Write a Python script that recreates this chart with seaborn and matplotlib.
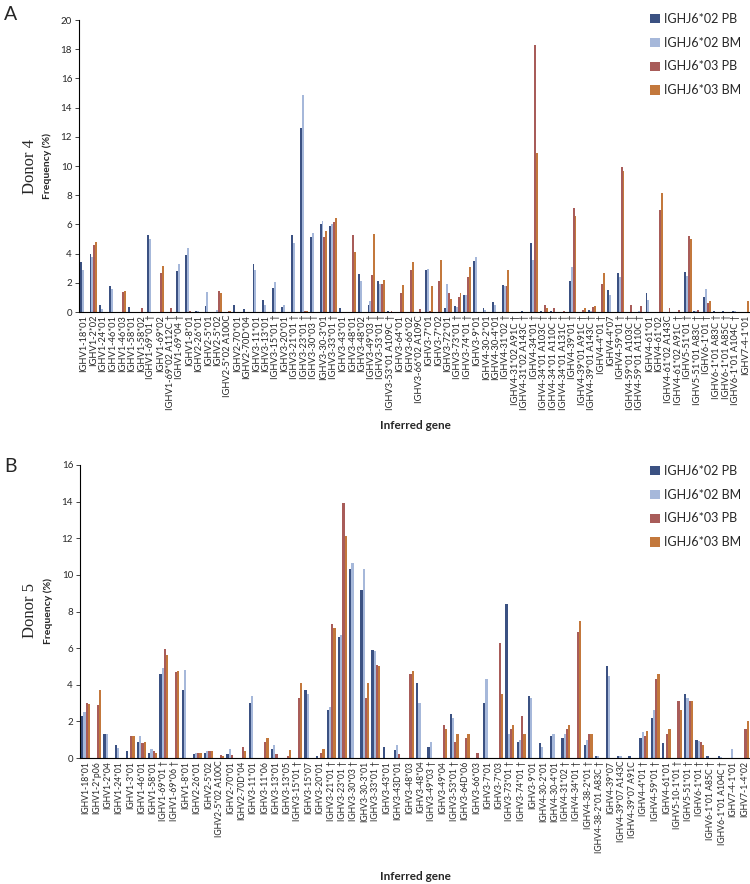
import numpy as np
import pandas as pd
import seaborn as sns
import matplotlib
matplotlib.use("Agg")
import matplotlib.pyplot as plt

series = ["IGHJ6*02 PB", "IGHJ6*02 BM", "IGHJ6*03 PB", "IGHJ6*03 BM"]
colors = ["#2F4D8E", "#9DB5E3", "#B5504C", "#D97626"]

# Donor 4
genes_a = ["IGHV1-18*01", "IGHV1-2*02", "IGHV1-24*01", "IGHV1-46*01", "IGHV1-46*03",
           "IGHV1-58*01", "IGHV1-58*02", "IGHV1-69*01 †", "IGHV1-69*02", "IGHV1-69*02 A112C †",
           "IGHV1-69*04 †", "IGHV1-8*01", "IGHV2-26*01", "IGHV2-5*01", "IGHV2-5*02",
           "IGHV2-5*02 A100C", "IGHV2-70*01", "IGHV2-70D*04", "IGHV3-11*01", "IGHV3-13*01",
           "IGHV3-15*01 †", "IGHV3-20*01", "IGHV3-21*01 †", "IGHV3-23*01 †", "IGHV3-30*03 †",
           "IGHV3-30-3*01", "IGHV3-33*01 †", "IGHV3-43*01", "IGHV3-48*01", "IGHV3-48*02",
           "IGHV3-49*03 †", "IGHV3-53*01 †", "IGHV3-53*01 A109C †", "IGHV3-64*01", "IGHV3-66*02",
           "IGHV3-66*02 A109C", "IGHV3-7*01", "IGHV3-7*02", "IGHV3-72*01", "IGHV3-73*01 †",
           "IGHV3-74*01 †", "IGHV3-9*01", "IGHV4-30-2*01", "IGHV4-30-4*01", "IGHV4-31*02 †",
           "IGHV4-31*02 A91C †", "IGHV4-31*02 A143C †", "IGHV4-34*01 †", "IGHV4-34*01 A103C †",
           "IGHV4-34*01 A110C †", "IGHV4-34*01 A131C †", "IGHV4-39*01 †", "IGHV4-39*01 A91C †",
           "IGHV4-39*01 A143C †", "IGHV4-4*01 †", "IGHV4-4*07", "IGHV4-59*01 †",
           "IGHV4-59*01 A103C †", "IGHV4-59*01 A110C †", "IGHV4-61*01", "IGHV4-61*02",
           "IGHV4-61*02 A143C", "IGHV4-61*02 A91C †", "IGHV5-51*01 †", "IGHV5-51*01 A83C †",
           "IGHV6-1*01 †", "IGHV6-1*01 A83C †", "IGHV6-1*01 A85C †", "IGHV6-1*01 A104C †",
           "IGHV7-4-1*01"]
a_pb02 = [3.4, 4.0, 0.5, 1.75, 0, 0.35, 0, 5.25, 0, 0,
          2.8, 3.9, 0.07, 0.4, 0, 0, 0.5, 0.2, 3.3, 0.8,
          1.65, 0.35, 5.25, 12.6, 5.15, 6.0, 5.9, 0.3, 0, 2.6,
          0.45, 2.15, 0.08, 0, 0, 0, 2.9, 0, 0.3, 0.4,
          1.15, 3.5, 0.3, 0.7, 1.85, 0, 0.07, 4.7, 0.1, 0.05,
          0, 2.1, 0, 0.15, 0, 1.5, 2.7, 0, 0, 1.3,
          0, 0, 0, 2.75, 0.07, 1.05, 0.07, 0.07, 0.07, 0]
a_bm02 = [2.9, 3.8, 0.2, 1.6, 0, 0, 0, 5.0, 0, 0,
          3.3, 4.4, 0.1, 1.35, 0.15, 0, 0, 0, 2.9, 0.45,
          2.05, 0.45, 4.7, 14.85, 5.4, 6.25, 6.0, 0, 0, 2.1,
          0.75, 1.95, 0, 0, 0, 0, 2.95, 0, 1.9, 0.35,
          1.15, 3.8, 0.15, 0.5, 1.8, 0, 0, 3.55, 0, 0,
          0, 3.05, 0, 0.1, 0, 1.15, 2.4, 0, 0.07, 0.8,
          0, 0, 0, 2.5, 0.07, 1.6, 0, 0, 0.05, 0]
a_pb03 = [0, 4.6, 0, 0, 1.35, 0, 0.25, 0, 2.7, 0.25,
          0, 0.1, 0, 0, 1.45, 0.05, 0, 0, 0, 0,
          0, 0, 0, 0.1, 0, 5.15, 6.15, 0, 5.25, 0,
          2.55, 1.9, 0.05, 1.3, 2.85, 0.2, 0.05, 2.1, 1.3, 1.05,
          2.4, 0, 0, 0, 1.8, 0, 0, 18.3, 0.5, 0.3,
          0.1, 7.1, 0.15, 0.35, 1.9, 0, 9.95, 0.5, 0.4, 0,
          7.0, 0.25, 0.15, 5.2, 0.15, 0.6, 0, 0, 0, 0]
a_bm03 = [0, 4.8, 0, 0, 1.45, 0, 0, 0, 3.15, 0,
          0, 0, 0, 0, 1.3, 0.05, 0, 0, 0, 0,
          0, 0, 0, 0.1, 0, 5.55, 6.45, 0, 4.1, 0,
          5.35, 2.2, 0, 1.85, 3.4, 0, 1.8, 3.55, 0.9, 1.3,
          3.1, 0, 0, 0, 2.85, 0, 0, 10.9, 0.3, 0,
          0, 6.6, 0.3, 0.4, 2.7, 0, 9.65, 0, 0, 0,
          8.15, 0, 0, 5.0, 0, 0.75, 0, 0, 0, 0.75]

# Donor 5
genes_b = ["IGHV1-18*01", "IGHV1-2*p06", "IGHV1-2*04", "IGHV1-24*01", "IGHV1-3*01",
           "IGHV1-46*01", "IGHV1-58*01", "IGHV1-69*01 †", "IGHV1-69*06 †", "IGHV1-8*01",
           "IGHV2-26*01", "IGHV2-5*02", "IGHV2-5*02 A100C", "IGHV2-70*01", "IGHV2-70D*04",
           "IGHV3-11*01", "IGHV3-11*06", "IGHV3-13*01", "IGHV3-13*05", "IGHV3-15*01 †",
           "IGHV3-15*07", "IGHV3-20*01", "IGHV3-21*01 †", "IGHV3-23*01 †", "IGHV3-30*03 †",
           "IGHV3-30-3*01", "IGHV3-33*01 †", "IGHV3-43*01", "IGHV3-43D*01", "IGHV3-48*03",
           "IGHV3-48*04", "IGHV3-49*03 †", "IGHV3-49*04", "IGHV3-53*01 †", "IGHV3-64D*06",
           "IGHV3-66*03", "IGHV3-7*01", "IGHV3-7*03", "IGHV3-73*01 †", "IGHV3-74*01 †",
           "IGHV3-9*01", "IGHV4-30-2*01", "IGHV4-30-4*01", "IGHV4-31*02 †", "IGHV4-34*01 †",
           "IGHV4-38-2*01 †", "IGHV4-38-2*01 A83C †", "IGHV4-39*07", "IGHV4-39*07 A143C",
           "IGHV4-39*07 A91C", "IGHV4-4*01 †", "IGHV4-59*01 †", "IGHV4-61*01", "IGHV5-10-1*01 †",
           "IGHV5-51*01 †", "IGHV6-1*01 †", "IGHV6-1*01 A85C †", "IGHV6-1*01 A104C †",
           "IGHV7-4-1*01", "IGHV7-1-4*02"]
b_pb02 = [2.3, 0, 1.3, 0.7, 0.4, 0.9, 0.3, 4.6, 0, 3.7,
          0.2, 0.25, 0, 0.2, 0, 3.0, 0, 0.5, 0, 0,
          3.7, 0.1, 2.6, 6.6, 10.3, 9.2, 5.9, 0.6, 0.45, 0,
          4.1, 0.6, 0, 2.4, 0, 0, 3.0, 0, 8.4, 0.9,
          3.4, 0.8, 1.2, 1.1, 0, 0.7, 0.1, 5.0, 0.1, 0.1,
          1.1, 2.2, 0.8, 0, 3.5, 1.0, 0.1, 0.1, 0, 0]
b_bm02 = [2.5, 0, 1.3, 0.55, 0, 1.2, 0.5, 4.9, 0, 4.8,
          0.25, 0.4, 0, 0.5, 0, 3.4, 0, 0.7, 0, 0,
          3.5, 0, 2.8, 6.7, 10.65, 10.3, 5.85, 0, 0.7, 0,
          3.0, 0.9, 0, 2.2, 0, 0, 4.3, 0, 1.3, 1.0,
          3.3, 0.6, 1.3, 1.3, 0, 1.0, 0.1, 4.5, 0.1, 0,
          1.4, 2.6, 0, 0, 3.3, 0.95, 0, 0.05, 0.5, 0]
b_pb03 = [3.0, 2.9, 0, 0, 1.2, 0.8, 0.4, 5.95, 4.7, 0,
          0.25, 0.4, 0.15, 0.15, 0.6, 0, 0.9, 0.2, 0.1, 3.3,
          0, 0.3, 7.3, 13.9, 0, 3.3, 5.1, 0, 0.2, 4.6,
          0, 0, 1.8, 0.9, 1.1, 0.25, 0, 6.3, 1.6, 2.3,
          0, 0, 0, 1.6, 6.9, 1.3, 0, 0, 0, 0,
          1.2, 4.3, 1.3, 3.1, 3.1, 0.9, 0, 0, 0, 1.6]
b_bm03 = [2.95, 3.7, 0, 0, 1.2, 0.9, 0.3, 5.6, 4.75, 0,
          0.3, 0.4, 0.1, 0, 0.4, 0, 1.1, 0, 0.45, 4.1,
          0, 0.5, 7.1, 12.1, 0, 4.1, 5.0, 0, 0, 4.75,
          0, 0, 1.6, 1.3, 1.3, 0, 0, 3.5, 1.8, 1.3,
          0, 0, 0, 1.8, 7.5, 1.3, 0, 0, 0, 0,
          1.5, 4.6, 1.6, 2.6, 3.1, 0.7, 0, 0, 0, 2.0]


def long_table(genes, cols):
    rows = []
    for s, vals in zip(series, cols):
        for g, v in zip(genes, vals):
            rows.append((g, s, v))
    return pd.DataFrame(rows, columns=["gene", "series", "freq"])


sns.set_style("white")
plt.rcParams["font.family"] = ["Lato", "DejaVu Sans"]

fig = plt.figure(figsize=(7.5, 8.84), dpi=100)
W, H = 750, 884


def draw(box, genes, cols, ymax, label_size, legend_top):
    l, t, r, b = box
    ax = fig.add_axes([l / W, 1 - b / H, (r - l) / W, (b - t) / H])
    df = long_table(genes, cols)
    sns.barplot(data=df, x="gene", y="freq", hue="series", order=genes, hue_order=series,
                palette=colors, width=0.8, linewidth=0, errorbar=None, ax=ax)
    ax.set_xlim(-0.5, len(genes) - 0.5)
    ax.set_ylim(0, ymax)
    ax.set_yticks(np.arange(0, ymax + 1, 2))
    ax.set_xticks(np.arange(len(genes) + 1) - 0.5, minor=True)
    ax.tick_params(axis="x", which="major", length=0, pad=2, labelsize=label_size, labelrotation=90)
    ax.tick_params(axis="x", which="minor", length=3, width=0.6, direction="out")
    ax.tick_params(axis="y", length=3, width=0.6, direction="out", labelsize=7, pad=2, left=True)
    for sp in ["top", "right"]:
        ax.spines[sp].set_visible(False)
    for sp in ["left", "bottom"]:
        ax.spines[sp].set_color("black")
        ax.spines[sp].set_linewidth(0.8)
    ax.set_xlabel("")
    ax.set_ylabel("Frequency (%)", fontsize=7.5, fontweight="bold", labelpad=6)
    handles, labels = ax.get_legend_handles_labels()
    ax.legend(handles, labels, loc="upper right", bbox_to_anchor=(1.0, 1 - legend_top / H),
              bbox_transform=fig.transFigure, frameon=False, fontsize=9,
              handlelength=0.75, handleheight=0.75, handletextpad=0.35,
              labelspacing=0.95, borderpad=0.2)
    return ax


ax_a = draw((79, 20, 750, 312), genes_a, [a_pb02, a_bm02, a_pb03, a_bm03], 20, 6.7, 4)
ax_b = draw((80, 465, 750, 758), genes_b, [b_pb02, b_bm02, b_pb03, b_bm03], 16, 6.2, 456)

fig.text(415 / W, 1 - 425 / H, "Inferred gene", ha="center", va="center", fontsize=8.5, fontweight="bold")
fig.text(415 / W, 1 - 877 / H, "Inferred gene", ha="center", va="center", fontsize=8.5, fontweight="bold")
fig.text(4 / W, 1 - 14 / H, "A", ha="left", va="center", fontsize=14)
fig.text(4 / W, 1 - 467 / H, "B", ha="left", va="center", fontsize=14)
fig.text(30 / W, 1 - 166 / H, "Donor 4", rotation=90, ha="center", va="center",
         fontsize=12, family="Liberation Serif")
fig.text(30 / W, 1 - 611 / H, "Donor 5", rotation=90, ha="center", va="center",
         fontsize=12, family="Liberation Serif")

fig.savefig("out.png", dpi=100)
